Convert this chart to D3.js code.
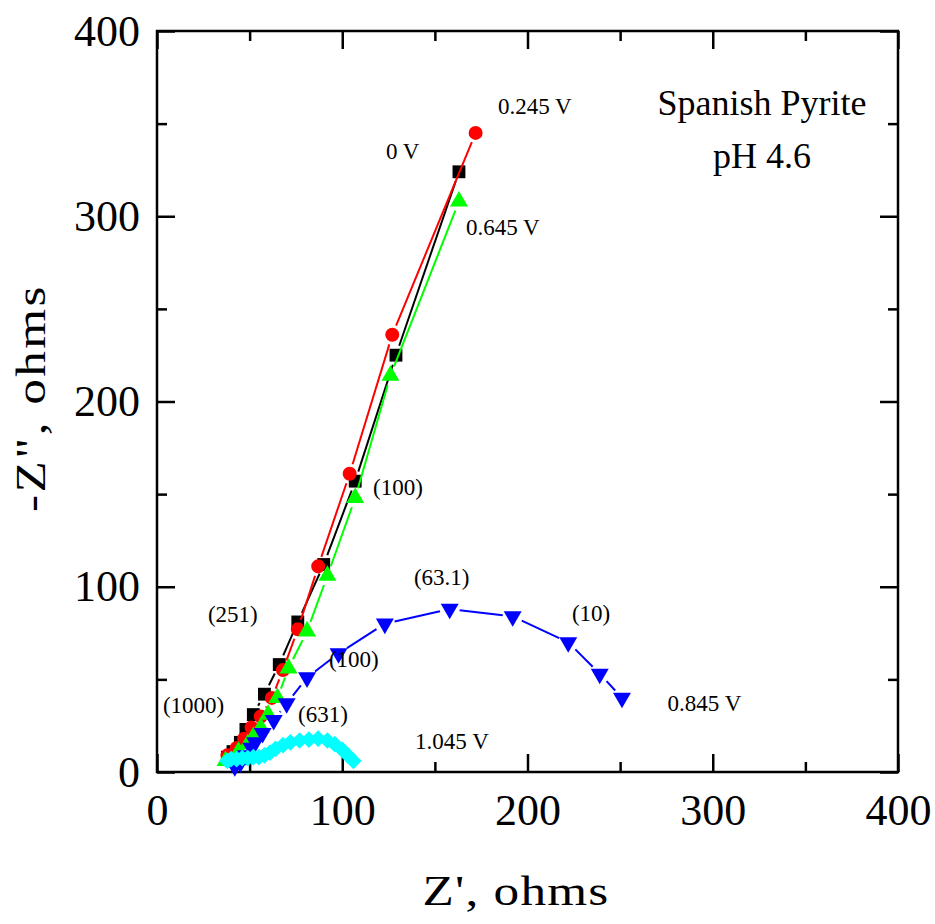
<!DOCTYPE html>
<html>
<head>
<meta charset="utf-8">
<script src="https://cdn.jsdelivr.net/npm/d3@7"></script>
<style>
  body { margin: 0; background: #fff; }
  text { font-family: "Liberation Serif", "Times New Roman", serif; fill: #000; }
</style>
</head>
<body>
<svg id="chart" width="935" height="924"></svg>
<script>
// Nyquist data, Z' (real) and -Z'' (imag) in ohms
var zRe0V = [38, 41, 45, 48, 52, 58, 66, 76, 90, 107, 129, 163];
var zIm0V = [8, 11, 16, 23, 31, 42, 58, 81, 112, 157, 225, 324];

var zRe245 = [38, 43, 47, 51, 56, 62, 68, 76, 87, 104, 127, 172];
var zIm245 = [9, 13, 18, 24, 30, 40, 55, 77, 111, 161, 236, 345];

var zRe645 = [37, 44, 49, 52, 56, 60, 65, 71, 81, 92, 107, 126, 163];
var zIm645 = [6, 11, 15, 19, 24, 31, 40, 56, 76, 106, 148, 214, 308];

var zRe845 = [42, 45, 48, 51, 53, 57, 63, 70, 81, 98, 123, 158, 192, 222, 239, 251];
var zIm845 = [3, 5, 9, 13, 16, 21, 28, 37, 51, 64, 80, 88, 84, 70, 53, 40];

var zRe1045 = [38, 40, 43, 46, 49, 52, 55, 58, 61, 64, 68, 72, 77, 82, 87, 92, 96, 100, 103, 106];
var zIm1045 = [6, 7, 7, 7.5, 7.5, 8, 8, 9, 10.5, 12.5, 14.5, 16, 17, 17.5, 18, 17, 15, 12, 9, 6];

var xTicks = [0, 100, 200, 300, 400];
var yTicks = [0, 100, 200, 300, 400];
var minorTicks = [50, 150, 250, 350];

var xTitle = "Z', ohms";
var yTitle = "-Z\", ohms";
var infoLines = ["Spanish Pyrite", "pH 4.6"];

// annotation text: [label, Z', -Z''] (left edge / baseline in data units)
var notes = [
  ["0.245 V", 184.1, 355.2],
  ["0 V", 123.6, 330.9],
  ["0.645 V", 166.8, 289.9],
  ["(100)", 116.6, 149.5],
  ["(251)", 27.5, 81],
  ["(1000)", 3.2, 31.8],
  ["(100)", 92.8, 56.7],
  ["(631)", 76.1, 27],
  ["1.045 V", 139.3, 12.4],
  ["(63.1)", 138.7, 100.9],
  ["(10)", 224, 81.5],
  ["0.845 V", 275.6, 32.9]
];

var svg = d3.select("#chart");

var x = d3.scaleLinear().domain([0, 400]).range([157, 898]);
var y = d3.scaleLinear().domain([0, 400]).range([772, 31]);

// frame
svg.append("rect")
  .attr("x", x(0)).attr("y", y(400))
  .attr("width", x(400) - x(0)).attr("height", y(0) - y(400))
  .attr("fill", "none").attr("stroke", "#000").attr("stroke-width", 2.5);

function addAxis(axis, tx, ty, keepLabels) {
  var g = svg.append("g")
    .attr("transform", "translate(" + tx + "," + ty + ")")
    .call(axis);
  g.select(".domain").remove();
  g.selectAll(".tick line").attr("stroke", "#000").attr("stroke-width", 2.5);
  if (!keepLabels) g.selectAll(".tick text").remove();
  return g;
}

var bottom = addAxis(d3.axisBottom(x).tickValues(xTicks).tickSize(-18).tickPadding(22), 0, y(0), true);
bottom.selectAll(".tick text").attr("font-size", 44).attr("font-family", null);
addAxis(d3.axisBottom(x).tickValues(minorTicks).tickSize(-10).tickFormat(""), 0, y(0));
addAxis(d3.axisTop(x).tickValues(xTicks).tickSize(-18).tickFormat(""), 0, y(400));
addAxis(d3.axisTop(x).tickValues(minorTicks).tickSize(-10).tickFormat(""), 0, y(400));

var left = addAxis(d3.axisLeft(y).tickValues(yTicks).tickSize(-18).tickPadding(17), x(0), 0, true);
left.selectAll(".tick text").attr("font-size", 44).attr("font-family", null);
addAxis(d3.axisLeft(y).tickValues(minorTicks).tickSize(-10).tickFormat(""), x(0), 0);
addAxis(d3.axisRight(y).tickValues(yTicks).tickSize(-18).tickFormat(""), x(400), 0);
addAxis(d3.axisRight(y).tickValues(minorTicks).tickSize(-10).tickFormat(""), x(400), 0);

// axis titles (original lettering is stretched along the text)
svg.append("text")
  .attr("transform", "translate(516,905) scale(1.22,1)")
  .attr("text-anchor", "middle")
  .attr("font-size", 42)
  .attr("letter-spacing", 1)
  .text(xTitle);

svg.append("text")
  .attr("transform", "translate(45,398) rotate(-90) scale(1.22,1)")
  .attr("text-anchor", "middle")
  .attr("font-size", 42)
  .attr("letter-spacing", 2)
  .text(yTitle);

// lines stop short of the markers
function gapSegments(re, im, gap) {
  var segs = [];
  for (var i = 0; i < re.length - 1; i++) {
    var x1 = x(re[i]), y1 = y(im[i]), x2 = x(re[i + 1]), y2 = y(im[i + 1]);
    var dx = x2 - x1, dy = y2 - y1, len = Math.sqrt(dx * dx + dy * dy);
    if (len <= 2 * gap) continue;
    var ux = dx / len, uy = dy / len;
    segs.push([x1 + ux * gap, y1 + uy * gap, x2 - ux * gap, y2 - uy * gap]);
  }
  return segs;
}

var series = [
  { re: zRe0V, im: zIm0V, color: "#000000", shape: d3.symbolSquare, size: 165, rot: 0 },
  { re: zRe245, im: zIm245, color: "#ff0000", shape: d3.symbolCircle, size: 154, rot: 0 },
  { re: zRe645, im: zIm645, color: "#00ff00", shape: d3.symbolTriangle, size: 140, rot: 0 },
  { re: zRe845, im: zIm845, color: "#0000ff", shape: d3.symbolTriangle, size: 140, rot: 180 },
  { re: zRe1045, im: zIm1045, color: "#00ffff", shape: d3.symbolSquare, size: 140, rot: 45 }
];

series.forEach(function(s) {
  var g = svg.append("g");
  g.selectAll("line")
    .data(gapSegments(s.re, s.im, 10))
    .enter().append("line")
      .attr("x1", function(d) { return d[0]; })
      .attr("y1", function(d) { return d[1]; })
      .attr("x2", function(d) { return d[2]; })
      .attr("y2", function(d) { return d[3]; })
      .attr("stroke", s.color)
      .attr("stroke-width", 2);

  var sym = d3.symbol().type(s.shape).size(s.size);
  g.selectAll("path")
    .data(s.re.map(function(v, i) { return [v, s.im[i]]; }))
    .enter().append("path")
      .attr("d", sym)
      .attr("transform", function(d) {
        return "translate(" + x(d[0]) + "," + y(d[1]) + ") rotate(" + s.rot + ")";
      })
      .attr("fill", s.color);
});

// annotations
svg.selectAll(".note")
  .data(notes)
  .enter().append("text")
    .attr("class", "note")
    .attr("x", function(d) { return x(d[1]); })
    .attr("y", function(d) { return y(d[2]); })
    .attr("font-size", 23)
    .text(function(d) { return d[0]; });

svg.append("text")
  .attr("x", x(326.6)).attr("y", y(354.6))
  .attr("text-anchor", "middle")
  .attr("font-size", 36)
  .text(infoLines[0]);
svg.append("text")
  .attr("x", x(326.6)).attr("y", y(326))
  .attr("text-anchor", "middle")
  .attr("font-size", 36)
  .text(infoLines[1]);
</script>
</body>
</html>
